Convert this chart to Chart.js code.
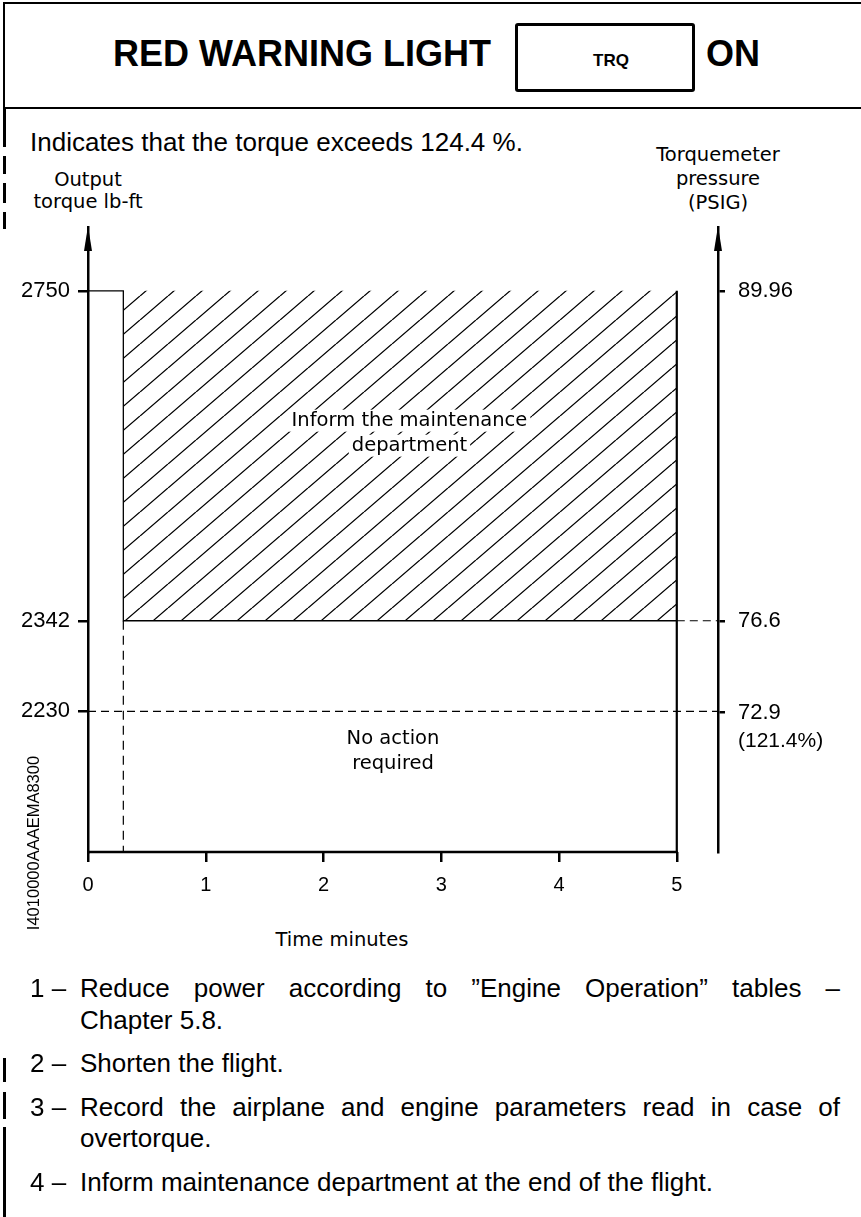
<!DOCTYPE html>
<html>
<head>
<meta charset="utf-8">
<script src="https://cdn.jsdelivr.net/npm/chart.js@4.4.1/dist/chart.umd.min.js"></script>
<style>
  html, body { margin: 0; padding: 0; background: #fff; }
  body { width: 861px; height: 1217px; position: relative; overflow: hidden; font-family: "Liberation Sans", Arial, sans-serif; color: #000; }
  .abs { position: absolute; white-space: nowrap; }
  .bar { position: absolute; left: 3px; width: 2.5px; background: #000; }
  #frame { position: absolute; left: 3px; top: 2px; width: 858px; height: 107px; box-sizing: border-box;
           border-top: 2.5px solid #000; border-left: 2.5px solid #000; border-bottom: 2.5px solid #000; }
  .big { font-weight: bold; font-size: 36px; line-height: 36px; top: 36px; }
  #trq { position: absolute; left: 515px; top: 23px; width: 180px; height: 69px; box-sizing: border-box;
         border: 3px solid #000; border-radius: 3px; }
  #trqtxt { left: 527px; width: 168px; top: 52px; text-align: center; font-weight: bold; font-size: 17px; line-height: 17px; }
  .dv { font-family: "DejaVu Sans", sans-serif; font-size: 19.5px; text-align: center; }
  .txt { font-size: 26px; line-height: 32px; }
  .num { left: 30px; }
  .body { left: 80px; width: 760px; }
  .just { text-align: justify; text-align-last: justify; white-space: normal; }
  #chart { position: absolute; left: 0; top: 200px; }
  #docid { left: 33px; top: 843px; font-size: 16.5px; transform: translate(-50%, -50%) rotate(-90deg); }
</style>
</head>
<body>
<div id="frame"></div>
<div class="abs big" style="left:113px">RED WARNING LIGHT</div>
<div id="trq"></div>
<div class="abs" id="trqtxt">TRQ</div>
<div class="abs big" style="left:706px">ON</div>

<div class="bar" style="top:107px;height:40px"></div>
<div class="bar" style="top:156px;height:18px"></div>
<div class="bar" style="top:183px;height:20px"></div>
<div class="bar" style="top:212px;height:17px"></div>

<div class="abs" style="left:30px;top:129px;font-size:26px;line-height:26px">Indicates that the torque exceeds 124.4 %.</div>

<div class="abs dv" style="left:-12px;width:200px;top:169px;line-height:22px">Output<br>torque lb-ft</div>
<div class="abs dv" style="left:618px;width:200px;top:143px;line-height:24px">Torquemeter<br>pressure<br>(PSIG)</div>

<canvas id="chart" width="861" height="720"></canvas>

<div class="abs" id="docid">I4010000AAAEMA8300</div>
<div class="abs dv" style="left:242px;width:200px;top:928px;line-height:24px">Time minutes</div>

<div class="abs txt num" style="top:972px">1 –</div>
<div class="abs txt body just" style="top:972px">Reduce power according to ”Engine Operation” tables –</div>
<div class="abs txt body" style="top:1004px">Chapter 5.8.</div>

<div class="abs txt num" style="top:1047px">2 –</div>
<div class="abs txt body" style="top:1047px">Shorten the flight.</div>

<div class="abs txt num" style="top:1091px">3 –</div>
<div class="abs txt body just" style="top:1091px">Record the airplane and engine parameters read in case of</div>
<div class="abs txt body" style="top:1122px">overtorque.</div>

<div class="abs txt num" style="top:1166px">4 –</div>
<div class="abs txt body" style="top:1166px">Inform maintenance department at the end of the flight.</div>

<div class="bar" style="top:1058px;height:24px"></div>
<div class="bar" style="top:1092px;height:27px"></div>
<div class="bar" style="top:1127px;height:90px"></div>

<script>
// chart values
const timeTicks = [0, 1, 2, 3, 4, 5];
const torqueTicks = [2230, 2342, 2750];
const pressureTicks = [72.9, 76.6, 89.96];
const pressureNote = '(121.4%)';
const warnZoneTime = [0.3, 5];          // hatched zone start / end (minutes)
const warnZoneTorque = [2342, 2750];    // hatched zone bottom / top (lb-ft)
const contTorque = 2230;                // dashed continuous limit
const torqueRange = [2056, 2829];       // torque span from time axis to arrow tip
const timeRange = [0, 5.35];            // right pressure axis stands at 5.35

const zoneLabels = [
    { lines: ['Inform the maintenance', 'department'], at: [2.73, 2574] },
    { lines: ['No action', 'required'], at: [2.59, 2180] }
];

// torque <-> pressure ratio
const ratio = torqueTicks[2] / pressureTicks[2];

function hatchPattern() {
    const c = document.createElement('canvas');
    c.width = 28;
    c.height = 24;
    const g = c.getContext('2d');
    g.strokeStyle = '#000';
    g.lineWidth = 1.3;
    g.beginPath();
    for (const dx of [-28, 0, 28]) {
        g.moveTo(dx, 24);
        g.lineTo(dx + 28, 0);
    }
    g.stroke();
    return g.createPattern(c, 'repeat');
}

const pt = (x, y) => ({ x: x, y: y });

const datasets = [
    {   // hatched "inform maintenance" zone
        data: [pt(warnZoneTime[0], warnZoneTorque[1]), pt(warnZoneTime[1], warnZoneTorque[1])],
        fill: { value: warnZoneTorque[0] },
        backgroundColor: hatchPattern(),
        borderWidth: 0
    },
    {   // step outline
        data: [pt(timeRange[0], warnZoneTorque[1]), pt(warnZoneTime[0], warnZoneTorque[1]),
               pt(warnZoneTime[0], warnZoneTorque[0]), pt(warnZoneTime[1], warnZoneTorque[0])],
        borderWidth: 1.3
    },
    {   // 5 minute limit
        data: [pt(warnZoneTime[1], warnZoneTorque[1]), pt(warnZoneTime[1], torqueRange[0])],
        borderWidth: 2.2
    },
    {
        data: [pt(warnZoneTime[0], warnZoneTorque[0]), pt(warnZoneTime[0], torqueRange[0])],
        borderWidth: 1.2,
        borderDash: [9, 6]
    },
    {
        data: [pt(warnZoneTime[1], warnZoneTorque[0]), pt(timeRange[1], warnZoneTorque[0])],
        borderWidth: 1.2,
        borderDash: [8, 5]
    },
    {
        data: [pt(timeRange[0], contTorque), pt(timeRange[1], contTorque)],
        borderWidth: 1.2,
        borderDash: [8, 5]
    }
];

const decor = {
    id: 'decor',
    afterDatasetsDraw(chart) {
        const { ctx, scales: { x, y } } = chart;
        ctx.save();
        ctx.font = '19.5px "DejaVu Sans"';
        ctx.textAlign = 'center';
        ctx.textBaseline = 'middle';
        zoneLabels.forEach(function (lbl) {
            const cx = x.getPixelForValue(lbl.at[0]);
            const cy = y.getPixelForValue(lbl.at[1]);
            lbl.lines.forEach(function (line, i) {
                const ly = cy + (i - (lbl.lines.length - 1) / 2) * 25;
                const w = ctx.measureText(line).width;
                ctx.fillStyle = '#fff';
                ctx.fillRect(cx - w / 2 - 3, ly - 11, w + 6, 22);
                ctx.fillStyle = '#000';
                ctx.fillText(line, cx, ly);
            });
        });
        ctx.restore();
    },
    afterDraw(chart) {
        const { ctx, chartArea: a, scales: { x, y2 } } = chart;
        ctx.save();
        ctx.fillStyle = '#000';
        ctx.strokeStyle = '#000';

        // time axis only runs 0..5
        ctx.lineWidth = 2.5;
        ctx.beginPath();
        ctx.moveTo(x.getPixelForValue(timeTicks[0]) - 1, a.bottom);
        ctx.lineTo(x.getPixelForValue(timeTicks[timeTicks.length - 1]) + 1, a.bottom);
        ctx.stroke();

        // arrow heads
        [a.left, a.right].forEach(function (px) {
            ctx.beginPath();
            ctx.moveTo(px, a.top - 1);
            ctx.lineTo(px - 4, a.top + 24);
            ctx.lineTo(px + 4, a.top + 24);
            ctx.closePath();
            ctx.fill();
        });

        ctx.font = '21px "Liberation Sans"';
        ctx.textAlign = 'left';
        ctx.textBaseline = 'middle';
        ctx.fillText(pressureNote, a.right + 20, y2.getPixelForValue(pressureTicks[0]) + 29);
        ctx.restore();
    }
};

const tickFont = { family: '"Liberation Sans", Arial', size: 22 };

new Chart(document.getElementById('chart').getContext('2d'), {
    type: 'line',
    data: { datasets: datasets },
    plugins: [decor],
    options: {
        responsive: false,
        animation: false,
        events: [],
        layout: { padding: { top: 27, left: 0, right: 0, bottom: 0 } },
        datasets: {
            line: {
                borderColor: '#000',
                pointRadius: 0,
                tension: 0,
                fill: false,
                clip: false
            }
        },
        plugins: {
            legend: { display: false },
            tooltip: { enabled: false }
        },
        scales: {
            x: {
                type: 'linear',
                min: timeRange[0],
                max: timeRange[1],
                afterBuildTicks: s => { s.ticks = timeTicks.map(v => ({ value: v })); },
                afterFit: s => { s.height = 68; },
                border: { display: false },
                grid: { drawOnChartArea: false, tickLength: 10, lineWidth: 2.5, color: '#000' },
                ticks: {
                    autoSkip: false,
                    maxRotation: 0,
                    padding: 11,
                    color: '#000',
                    font: { family: '"Liberation Sans", Arial', size: 20 },
                    callback: v => String(v)
                }
            },
            y: {
                type: 'linear',
                position: 'left',
                min: torqueRange[0],
                max: torqueRange[1],
                afterBuildTicks: s => { s.ticks = torqueTicks.map(v => ({ value: v })); },
                afterFit: s => { s.width = 88; },
                border: { display: true, width: 2.5, color: '#000' },
                grid: { drawOnChartArea: false, tickLength: 10, lineWidth: 2.5, color: '#000' },
                ticks: { autoSkip: false, padding: 8, color: '#000', font: tickFont, callback: v => String(v) }
            },
            y2: {
                type: 'linear',
                position: 'right',
                min: torqueRange[0] / ratio,
                max: torqueRange[1] / ratio,
                afterBuildTicks: s => { s.ticks = pressureTicks.map(v => ({ value: v })); },
                afterFit: s => { s.width = 143; },
                border: { display: true, width: 2.5, color: '#000' },
                grid: { drawOnChartArea: false, tickLength: 7, lineWidth: 2.5, color: '#000' },
                ticks: { autoSkip: false, padding: 13, color: '#000', font: tickFont, callback: v => String(v) }
            }
        }
    }
});
</script>
</body>
</html>
